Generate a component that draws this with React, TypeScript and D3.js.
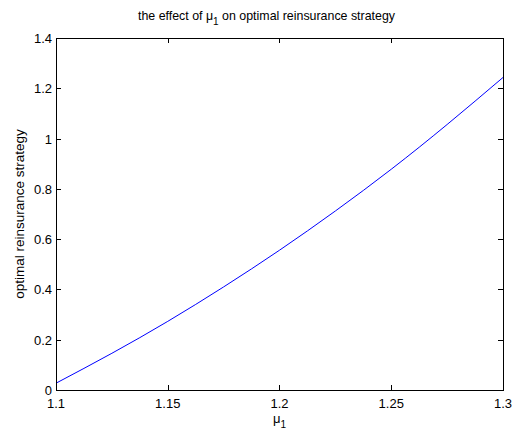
import React, { useEffect, useRef } from 'react';
import * as d3 from 'd3';

// values
const muValues = [1.1, 1.125, 1.15, 1.175, 1.2, 1.225, 1.25, 1.275, 1.3];
const strategyValues = [0.027, 0.146, 0.273, 0.41, 0.556, 0.712, 0.878, 1.056, 1.243];
const xTicks = [1.1, 1.15, 1.2, 1.25, 1.3];
const yTicks = [0, 0.2, 0.4, 0.6, 0.8, 1, 1.2, 1.4];

const W = 520;
const H = 429;
const margin = { left: 56, right: 17, top: 38, bottom: 39 };

const App = () => {
    const ref = useRef<SVGSVGElement>(null);

    useEffect(() => {
        const svg = d3.select(ref.current);
        svg.selectAll('*').remove();

        const x = d3.scaleLinear().domain([1.1, 1.3]).range([margin.left, W - margin.right]);
        const y = d3.scaleLinear().domain([0, 1.4]).range([H - margin.bottom, margin.top]);
        const font = 'Liberation Sans, Arial, sans-serif';

        svg.append('rect').attr('width', W).attr('height', H).attr('fill', 'white');

        // tick marks on all four sides, pointing inward
        const g = svg.append('g').attr('stroke', 'black').attr('stroke-width', 1);
        xTicks.forEach(t => {
            const px = Math.round(x(t)) + 0.5;
            g.append('line').attr('x1', px).attr('x2', px).attr('y1', y(0)).attr('y2', y(0) - 5);
            g.append('line').attr('x1', px).attr('x2', px).attr('y1', y(1.4)).attr('y2', y(1.4) + 5);
        });
        yTicks.forEach(t => {
            const py = Math.round(y(t)) + 0.5;
            g.append('line').attr('x1', x(1.1)).attr('x2', x(1.1) + 5).attr('y1', py).attr('y2', py);
            g.append('line').attr('x1', x(1.3)).attr('x2', x(1.3) - 5).attr('y1', py).attr('y2', py);
        });

        const line = d3.line<number>()
            .x((d, i) => x(muValues[i]))
            .y(d => y(d))
            .curve(d3.curveNatural);

        svg.append('path')
            .datum(strategyValues)
            .attr('d', line)
            .attr('fill', 'none')
            .attr('stroke', '#0000ff')
            .attr('stroke-width', 1);

        svg.append('rect')
            .attr('x', Math.round(x(1.1)) + 0.5)
            .attr('y', Math.round(y(1.4)) + 0.5)
            .attr('width', Math.round(x(1.3)) - Math.round(x(1.1)))
            .attr('height', Math.round(y(0)) - Math.round(y(1.4)))
            .attr('fill', 'none')
            .attr('stroke', 'black')
            .attr('stroke-width', 1);

        svg.append('g')
            .selectAll('text')
            .data(xTicks)
            .join('text')
            .attr('x', d => x(d))
            .attr('y', 408)
            .attr('text-anchor', 'middle')
            .style('font', `13px ${font}`)
            .text(d => String(d));

        svg.append('g')
            .selectAll('text')
            .data(yTicks)
            .join('text')
            .attr('x', x(1.1) - 4)
            .attr('y', d => y(d) + 5)
            .attr('text-anchor', 'end')
            .style('font', `13px ${font}`)
            .text(d => String(d));

        // x label: mu_1
        const xl = svg.append('text')
            .attr('x', x(1.2))
            .attr('y', 423)
            .attr('text-anchor', 'middle')
            .style('font', `13px ${font}`);
        xl.append('tspan').text('μ');
        xl.append('tspan').attr('dy', 5).style('font-size', '10px').text('1');

        svg.append('text')
            .attr('transform', `translate(24,${(y(0) + y(1.4)) / 2}) rotate(-90)`)
            .attr('text-anchor', 'middle')
            .style('font', `13.5px ${font}`)
            .text('optimal reinsurance strategy');

        const title = svg.append('text')
            .attr('x', 138)
            .attr('y', 20)
            .attr('text-anchor', 'start')
            .style('font', `12.4px ${font}`);
        title.append('tspan').text('the effect of μ');
        title.append('tspan').attr('dy', 5).style('font-size', '10px').text('1');
        title.append('tspan').attr('dy', -5).text(' on optimal reinsurance strategy');
    }, []);

    return (
        <svg ref={ref} width={W} height={H} style={{ display: 'block', position: 'absolute', left: 0, top: 0 }} />
    );
};

export default App;
